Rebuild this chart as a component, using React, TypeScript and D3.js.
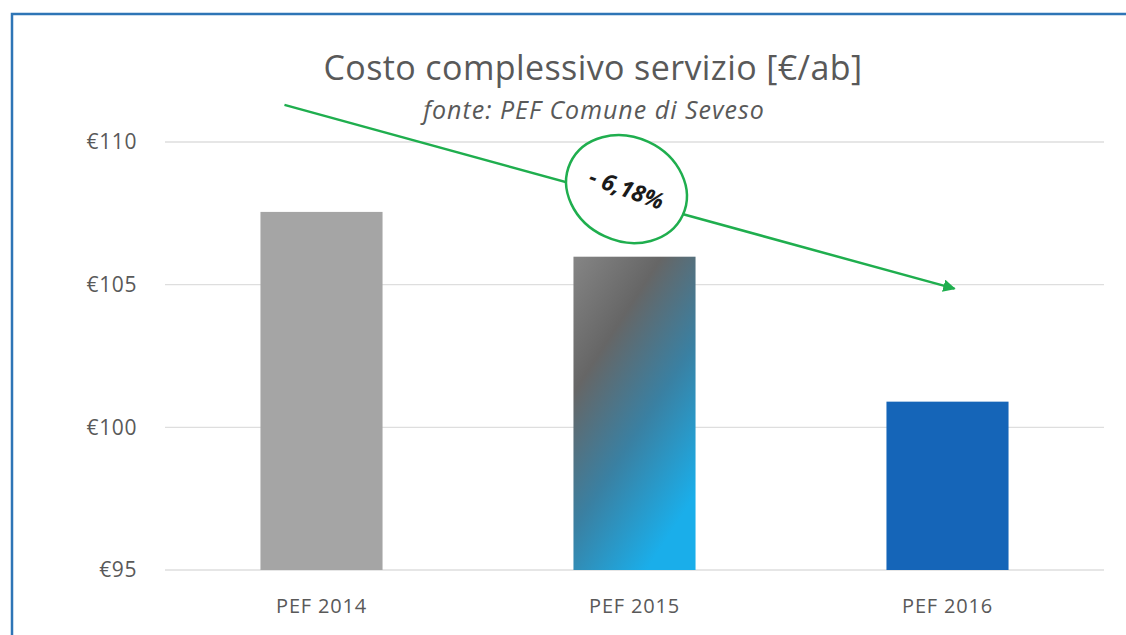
import { useMemo } from "react";
import * as d3 from "d3";

const WIDTH = 1126;
const HEIGHT = 635;
const MARGIN = { top: 142, right: 22, bottom: 65, left: 165 };

const CATEGORIES = ["PEF 2014", "PEF 2015", "PEF 2016"];
const VALUES = [107.55, 105.98, 100.9];
const Y_TICKS = [95, 100, 105, 110];
const TITLE = "Costo complessivo servizio [€/ab]";
const SUBTITLE = "fonte: PEF Comune di Seveso";
const CHANGE_LABEL = "- 6,18%";

const FONT = "'Open Sans', 'Noto Sans', sans-serif";
const GREEN = "#1fae4e";

const App = () => {
  const boundsWidth = WIDTH - MARGIN.left - MARGIN.right;
  const boundsHeight = HEIGHT - MARGIN.top - MARGIN.bottom;

  const xScale = useMemo(
    () =>
      d3
        .scaleBand()
        .domain(CATEGORIES)
        .range([MARGIN.left, MARGIN.left + boundsWidth])
        .paddingInner(0.61)
        .paddingOuter(0.305),
    [boundsWidth]
  );

  const yScale = useMemo(
    () =>
      d3
        .scaleLinear()
        .domain([95, 110])
        .range([MARGIN.top + boundsHeight, MARGIN.top]),
    [boundsHeight]
  );

  const fills = ["#a5a5a5", "url(#grad2015)", "#1565b8"];

  // arrow from above the first bar to beside the last one, in data units
  const x0 = xScale(CATEGORIES[0])! + 24;
  const y0 = yScale(111.3);
  const x1 = xScale(CATEGORIES[2])! + xScale.bandwidth() / 2 + 7;
  const y1 = yScale(104.86);
  const cx = xScale(CATEGORIES[1])! + xScale.bandwidth() / 2 - 8;
  const cy = yScale(108.35);

  return (
    <div style={{ position: "absolute", left: 0, top: 0 }}>
      <svg width={WIDTH} height={HEIGHT} style={{ display: "block", background: "#fff" }}>
        <defs>
          <linearGradient id="grad2015" x1="0" y1="0" x2="0.6" y2="1">
            <stop offset="0%" stopColor="#858585" />
            <stop offset="32%" stopColor="#666666" />
            <stop offset="64%" stopColor="#3a80a2" />
            <stop offset="100%" stopColor="#1aaeea" />
          </linearGradient>
          <marker id="arrowhead" viewBox="0 0 10 10" refX="9" refY="5" markerWidth="5" markerHeight="5" orient="auto">
            <path d="M0,0 L10,5 L0,10 z" fill={GREEN} />
          </marker>
        </defs>

        <path d={`M12,${HEIGHT} L12,14 L${WIDTH},14`} fill="none" stroke="#2e75b6" strokeWidth={2.5} />

        {Y_TICKS.map((t) => (
          <g key={t}>
            <line
              x1={MARGIN.left}
              x2={MARGIN.left + boundsWidth}
              y1={yScale(t)}
              y2={yScale(t)}
              stroke="#dedede"
              strokeWidth={1.3}
            />
            <text
              x={137}
              y={yScale(t)}
              dy="0.35em"
              textAnchor="end"
              fontFamily={FONT}
              fontSize={21}
              letterSpacing={0.6}
              fill="#595959"
            >
              {"€" + t}
            </text>
          </g>
        ))}

        {CATEGORIES.map((c, i) => (
          <g key={c}>
            <rect
              x={xScale(c)}
              y={yScale(VALUES[i])}
              width={xScale.bandwidth()}
              height={yScale(95) - yScale(VALUES[i])}
              fill={fills[i]}
            />
            <text
              x={xScale(c)! + xScale.bandwidth() / 2}
              y={613}
              textAnchor="middle"
              fontFamily={FONT}
              fontSize={20}
              letterSpacing={0.8}
              fill="#595959"
            >
              {c}
            </text>
          </g>
        ))}

        <text x={593} y={80} textAnchor="middle" fontFamily={FONT} fontSize={34} letterSpacing={0.4} fill="#595959">
          {TITLE}
        </text>
        <text x={594} y={119} textAnchor="middle" fontFamily={FONT} fontSize={25} letterSpacing={1} fontStyle="italic" fill="#595959">
          {SUBTITLE}
        </text>

        <line
          x1={x0}
          y1={y0}
          x2={x1}
          y2={y1}
          stroke={GREEN}
          strokeWidth={2.5}
          markerEnd="url(#arrowhead)"
        />
        <ellipse
          cx={cx}
          cy={cy}
          rx={62}
          ry={52}
          transform={`rotate(25,${cx},${cy})`}
          fill="#fff"
          stroke={GREEN}
          strokeWidth={2.5}
        />
        <text
          x={cx}
          y={cy}
          dy="0.35em"
          textAnchor="middle"
          fontFamily={FONT}
          fontSize={23}
          fontWeight="bold"
          fontStyle="italic"
          fill="#1a1a1a"
          transform={`rotate(20,${cx},${cy})`}
        >
          {CHANGE_LABEL}
        </text>
      </svg>
    </div>
  );
};

export default App;
